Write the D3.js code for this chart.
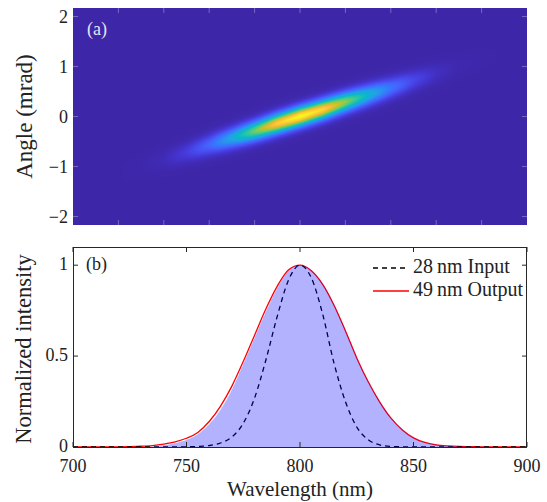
<!DOCTYPE html>
<html>
<head>
<meta charset="utf-8">
<script src="https://cdn.jsdelivr.net/npm/d3@7"></script>
<style>
  body { margin: 0; background: #fff; }
  svg { display: block; }
  text { font-family: 'Liberation Serif', 'Times New Roman', serif; }
</style>
</head>
<body>
<div id="chart"></div>
<script>

// ---- spectra (b), sampled every 5 nm ----
const wavelength = [700, 705, 710, 715, 720, 725, 730, 735, 740, 745, 750, 755, 760, 765, 770, 775, 780,
  785, 790, 795, 800, 805, 810, 815, 820, 825, 830, 835, 840, 845, 850, 855, 860, 865, 870, 875, 880,
  885, 890, 895, 900];
const inputSpectrum = [0, 0, 0, 0, 0, 0, 0, 0, 0, 0, 0.001, 0.003, 0.008, 0.022, 0.055, 0.13, 0.27,
  0.48, 0.72, 0.92, 1.0, 0.93, 0.73, 0.46, 0.25, 0.11, 0.04, 0.012, 0.003, 0.001, 0, 0, 0, 0, 0, 0, 0,
  0, 0, 0, 0];
const outputFit = [0, 0, 0, 0, 0.001, 0.002, 0.004, 0.008, 0.016, 0.028, 0.048, 0.08, 0.14, 0.225, 0.335,
  0.47, 0.615, 0.76, 0.885, 0.975, 1.0, 0.97, 0.895, 0.78, 0.64, 0.49, 0.36, 0.25, 0.16, 0.095, 0.05,
  0.025, 0.012, 0.006, 0.003, 0.002, 0.001, 0, 0, 0, 0];
const outputSim = [0, 0, 0, 0, 0, 0, 0, 0.002, 0.01, 0.021, 0.039, 0.07, 0.125, 0.205, 0.315, 0.455, 0.6,
  0.745, 0.875, 0.97, 1.0, 0.97, 0.895, 0.78, 0.64, 0.49, 0.36, 0.25, 0.16, 0.095, 0.05, 0.025, 0.012,
  0.006, 0.003, 0.002, 0.001, 0, 0, 0, 0];

const ridgeWavelength = [720, 730, 740, 750, 760, 770, 780, 790, 800, 810, 820, 830, 840, 850, 860, 870, 880, 890];
const ridgeAngle = [-1.14, -1.0, -0.86, -0.72, -0.57, -0.43, -0.29, -0.14, 0, 0.14, 0.29, 0.43, 0.57, 0.72, 0.86, 1.0, 1.14, 1.28];
const ridgePeak = [0, 0.004, 0.02, 0.08, 0.2, 0.4, 0.66, 0.9, 1.0, 0.92, 0.7, 0.45, 0.24, 0.11, 0.035, 0.008, 0.002, 0];
const ridgeWidth = [0.13, 0.13, 0.13, 0.13, 0.13, 0.13, 0.13, 0.13, 0.13, 0.13, 0.13, 0.13, 0.13, 0.13, 0.13, 0.13, 0.13, 0.13];
// cross-section of the ridge, offset in widths -> relative level
const crossOffset = [0, 0.5, 1, 1.5, 2, 2.5, 3, 3.5, 4];
const crossLevel = [1, 0.88, 0.61, 0.32, 0.135, 0.044, 0.011, 0.002, 0];

// ---- ticks and labels ----
const angleTicks = [-2, -1, 0, 1, 2];
const mapWlTicks = [720, 740, 760, 780, 800, 820, 840, 860, 880];
const wlTicks = [700, 750, 800, 850, 900];
const intensityTicks = [0, 0.5, 1];
const legendLabels = ['28\u2009nm Input', '49\u2009nm Output'];

const width = 547;
const height = 502;
const left = 73, right = 527;
const topA = 8, bottomA = 225;
const topB = 247, bottomB = 447;
const tickLen = 5;

// parula (sampled every 4th entry of the 64 colour table)
const parulaIdx = [0, 4, 8, 12, 16, 20, 24, 28, 32, 36, 40, 44, 48, 52, 56, 60, 63];
const parulaRgb = [
  [0.2422, 0.1504, 0.6603], [0.2706, 0.2147, 0.8364], [0.2813, 0.3006, 0.9414], [0.2699, 0.3892, 0.9906],
  [0.1963, 0.4847, 0.9892], [0.1687, 0.5703, 0.9359], [0.1248, 0.6459, 0.8883], [0.0297, 0.7082, 0.8163],
  [0.0964, 0.7500, 0.7120], [0.2161, 0.7843, 0.5923], [0.3909, 0.8029, 0.4354], [0.6174, 0.7876, 0.2612],
  [0.8203, 0.7498, 0.1535], [0.9728, 0.7298, 0.2394], [0.9892, 0.8136, 0.1885], [0.9628, 0.9373, 0.1265],
  [0.9769, 0.9839, 0.0805]
];
const parula = d3.scaleLinear()
  .domain(parulaIdx.map(i => i / 63))
  .range(parulaRgb.map(c => d3.rgb(c[0] * 255, c[1] * 255, c[2] * 255)))
  .interpolate(d3.interpolateRgb)
  .clamp(true);

const x = d3.scaleLinear().domain([700, 900]).range([left, right]);
const yA = d3.scaleLinear().domain([-2.17, 2.17]).range([bottomA, topA]);
const yB = d3.scaleLinear().domain([0, 1.1]).range([bottomB, topB]);

const svg = d3.select('#chart')
  .append('svg')
  .attr('width', width)
  .attr('height', height);

// ============================================================================
// (a) map
// ============================================================================
function drawMap() {
  const pw = right - left;
  const ph = bottomA - topA;
  const centerAt = d3.scaleLinear().domain(ridgeWavelength).range(ridgeAngle).clamp(true);
  const peakAt = d3.scaleLinear().domain(ridgeWavelength).range(ridgePeak).clamp(true);
  const widthAt = d3.scaleLinear().domain(ridgeWavelength).range(ridgeWidth).clamp(true);
  const levelAt = d3.scaleLinear().domain(crossOffset).range(crossLevel).clamp(true);

  const canvas = document.createElement('canvas');
  canvas.width = pw;
  canvas.height = ph;
  const ctx = canvas.getContext('2d');
  const img = ctx.createImageData(pw, ph);
  for (let i = 0; i < pw; i++) {
    const lam = x.invert(left + i + 0.5);
    const c0 = centerAt(lam), p0 = peakAt(lam), w0 = widthAt(lam);
    for (let j = 0; j < ph; j++) {
      const ang = yA.invert(topA + j + 0.5);
      const v = p0 * levelAt(Math.abs(ang - c0) / w0);
      const c = d3.rgb(parula(v));
      const k = (j * pw + i) * 4;
      img.data[k] = c.r;
      img.data[k + 1] = c.g;
      img.data[k + 2] = c.b;
      img.data[k + 3] = 255;
    }
  }
  ctx.putImageData(img, 0, 0);

  svg.append('image')
    .attr('x', left)
    .attr('y', topA)
    .attr('width', pw)
    .attr('height', ph)
    .attr('preserveAspectRatio', 'none')
    .attr('href', canvas.toDataURL());

  const ticks = svg.append('g')
    .attr('stroke', '#ffffff')
    .attr('stroke-opacity', 0.3)
    .attr('stroke-width', 1);

  mapWlTicks.forEach(t => {
    ticks.append('line').attr('x1', x(t)).attr('x2', x(t)).attr('y1', bottomA).attr('y2', bottomA - tickLen);
    ticks.append('line').attr('x1', x(t)).attr('x2', x(t)).attr('y1', topA).attr('y2', topA + tickLen);
  });
  angleTicks.forEach(t => {
    ticks.append('line').attr('x1', left).attr('x2', left + tickLen).attr('y1', yA(t)).attr('y2', yA(t));
    ticks.append('line').attr('x1', right).attr('x2', right - tickLen).attr('y1', yA(t)).attr('y2', yA(t));
  });

  svg.append('g')
    .selectAll('text')
    .data(angleTicks)
    .enter().append('text')
    .attr('x', left - 5)
    .attr('y', d => yA(d) + 6)
    .attr('text-anchor', 'end')
    .attr('font-size', 18)
    .attr('fill', '#222')
    .text(d => d < 0 ? '\u2212' + Math.abs(d) : d);

  svg.append('text')
    .attr('transform', `translate(32, ${(topA + bottomA) / 2}) rotate(-90)`)
    .attr('text-anchor', 'middle')
    .attr('font-size', 23)
    .attr('fill', '#222')
    .text('Angle (mrad)');

  svg.append('text')
    .attr('x', 87)
    .attr('y', 35)
    .attr('font-size', 18)
    .attr('fill', '#e4e4f6')
    .text('(a)');
}

// ============================================================================
// (b) spectra
// ============================================================================
function drawSpectra() {
  const pts = vals => wavelength.map((w, i) => ({ wl: w, v: vals[i] }));

  const line = d3.line()
    .x(d => x(d.wl))
    .y(d => yB(d.v))
    .curve(d3.curveMonotoneX);

  const area = d3.area()
    .x(d => x(d.wl))
    .y0(yB(0))
    .y1(d => yB(d.v))
    .curve(d3.curveMonotoneX);

  const g = svg.append('g');

  g.append('path')
    .datum(pts(outputFit))
    .attr('d', line)
    .attr('fill', 'none')
    .attr('stroke', '#ff0000')
    .attr('stroke-width', 1.3);

  g.append('path')
    .datum(pts(inputSpectrum))
    .attr('d', line)
    .attr('fill', 'none')
    .attr('stroke', '#000')
    .attr('stroke-width', 1.3)
    .attr('stroke-dasharray', '5,4');

  // shaded simulated output, drawn on top with transparency
  g.append('path')
    .datum(pts(outputSim))
    .attr('d', area)
    .attr('fill', '#0000ff')
    .attr('fill-opacity', 0.3);

  const ticks = svg.append('g')
    .attr('stroke', '#262626')
    .attr('stroke-width', 1);

  wlTicks.forEach(t => {
    ticks.append('line').attr('x1', x(t)).attr('x2', x(t)).attr('y1', bottomB).attr('y2', bottomB - tickLen);
    ticks.append('line').attr('x1', x(t)).attr('x2', x(t)).attr('y1', topB).attr('y2', topB + tickLen);
  });
  intensityTicks.forEach(t => {
    ticks.append('line').attr('x1', left).attr('x2', left + tickLen).attr('y1', yB(t)).attr('y2', yB(t));
    ticks.append('line').attr('x1', right).attr('x2', right - tickLen).attr('y1', yB(t)).attr('y2', yB(t));
  });

  svg.append('rect')
    .attr('x', left + 0.5)
    .attr('y', topB + 0.5)
    .attr('width', right - left - 1)
    .attr('height', bottomB - topB)
    .attr('fill', 'none')
    .attr('stroke', '#262626')
    .attr('stroke-width', 1);

  svg.append('g')
    .selectAll('text')
    .data(intensityTicks)
    .enter().append('text')
    .attr('x', left - 5)
    .attr('y', d => yB(d) + 5)
    .attr('text-anchor', 'end')
    .attr('font-size', 18)
    .attr('fill', '#222')
    .text(d => d);

  svg.append('g')
    .selectAll('text')
    .data(wlTicks)
    .enter().append('text')
    .attr('x', d => x(d))
    .attr('y', 472)
    .attr('text-anchor', 'middle')
    .attr('font-size', 18)
    .attr('fill', '#222')
    .text(d => d);

  svg.append('text')
    .attr('transform', `translate(31, ${(topB + bottomB) / 2 + 2}) rotate(-90)`)
    .attr('text-anchor', 'middle')
    .attr('font-size', 22.5)
    .attr('fill', '#222')
    .text('Normalized intensity');

  svg.append('text')
    .attr('x', (left + right) / 2)
    .attr('y', 496)
    .attr('text-anchor', 'middle')
    .attr('font-size', 21)
    .attr('fill', '#222')
    .text('Wavelength (nm)');

  svg.append('text')
    .attr('x', 86)
    .attr('y', 270)
    .attr('font-size', 18)
    .attr('fill', '#222')
    .text('(b)');

  // legend
  const legend = svg.append('g')
    .attr('transform', 'translate(373, 268)');

  legend.selectAll('line')
    .data(legendLabels)
    .enter().append('line')
    .attr('x1', 0)
    .attr('x2', 36)
    .attr('y1', (d, i) => i * 23)
    .attr('y2', (d, i) => i * 23)
    .attr('stroke', (d, i) => i === 0 ? '#000' : '#ff0000')
    .attr('stroke-width', 1.3)
    .attr('stroke-dasharray', (d, i) => i === 0 ? '5,4' : null);

  legend.selectAll('text')
    .data(legendLabels)
    .enter().append('text')
    .attr('x', 40)
    .attr('y', (d, i) => i * 23 + 5)
    .attr('font-size', 20)
    .attr('fill', '#222')
    .text(d => d);
}

drawMap();
drawSpectra();

</script>
</body>
</html>
